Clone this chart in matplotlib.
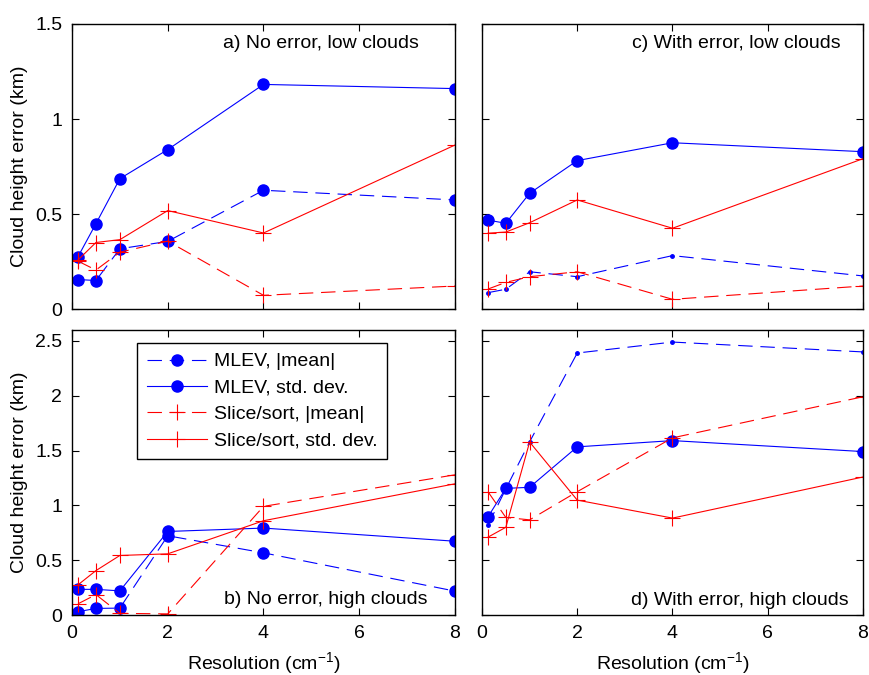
import matplotlib
matplotlib.use("Agg")
import matplotlib.pyplot as plt

plt.rcParams['font.family'] = ['Liberation Sans', 'DejaVu Sans']
plt.rcParams['font.size'] = 14
plt.rcParams['mathtext.fontset'] = 'custom'
plt.rcParams['mathtext.rm'] = 'Liberation Sans'
plt.rcParams['mathtext.default'] = 'regular'

# spectral resolution (cm^-1)
x_res = [0.125, 0.5, 1, 2, 4, 8]

# a) no error, low clouds
mlev_mean_a = [0.155, 0.150, 0.317, 0.356, 0.625, 0.574]
mlev_std_a = [0.275, 0.449, 0.686, 0.839, 1.182, 1.160]
slice_mean_a = [0.252, 0.205, 0.299, 0.357, 0.072, 0.121]
slice_std_a = [0.258, 0.350, 0.365, 0.518, 0.400, 0.863]

# c) with error, low clouds
mlev_mean_c = [0.086, 0.104, 0.196, 0.170, 0.281, 0.174]
mlev_std_c = [0.468, 0.451, 0.609, 0.781, 0.875, 0.828]
slice_mean_c = [0.105, 0.140, 0.170, 0.196, 0.051, 0.121]
slice_std_c = [0.399, 0.405, 0.454, 0.574, 0.425, 0.791]

# b) no error, high clouds
mlev_mean_b = [0.030, 0.060, 0.063, 0.723, 0.567, 0.218]
mlev_std_b = [0.234, 0.234, 0.220, 0.762, 0.793, 0.673]
slice_mean_b = [0.102, 0.186, 0.015, 0.010, 0.991, 1.279]
slice_std_b = [0.275, 0.405, 0.543, 0.558, 0.860, 1.197]

# d) with error, high clouds
mlev_mean_d = [0.820, 1.150, 1.580, 2.390, 2.490, 2.400]
mlev_std_d = [0.895, 1.155, 1.165, 1.534, 1.591, 1.491]
slice_mean_d = [1.125, 0.890, 0.868, 1.125, 1.616, 1.991]
slice_std_d = [0.710, 0.800, 1.578, 1.048, 0.884, 1.259]

series_labels = ['MLEV, |mean|', 'MLEV, std. dev.',
                 'Slice/sort, |mean|', 'Slice/sort, std. dev.']
panel_titles = ['a) No error, low clouds', 'c) With error, low clouds',
                'b) No error, high clouds', 'd) With error, high clouds']
xlabel = 'Resolution (cm$^{-1}$)'
ylabel = 'Cloud height error (km)'

fig = plt.figure(figsize=(8.7, 6.75), dpi=100)

W, H = 870.0, 675.0
def box(x0, x1, y0, y1):
    return [x0 / W, 1 - y1 / H, (x1 - x0) / W, (y1 - y0) / H]

ax_a = fig.add_axes(box(72, 455, 24, 309))
ax_c = fig.add_axes(box(482, 863, 24, 309))
ax_b = fig.add_axes(box(72, 455, 330, 615))
ax_d = fig.add_axes(box(482, 863, 330, 615))

dash = (0, (13, 7))
lw = 0.8

def draw(ax, mm, ms, sm, ss, small_mean=False):
    mean_size = 2.5 if small_mean else 8
    h1, = ax.plot(x_res, mm, color='blue', ls=dash, lw=lw, marker='o',
                  ms=mean_size, mec='blue', mfc='blue')
    h2, = ax.plot(x_res, ms, color='blue', ls='-', lw=lw, marker='o',
                  ms=8, mec='blue', mfc='blue')
    h3, = ax.plot(x_res, sm, color='red', ls=dash, lw=lw, marker='+',
                  ms=11, mew=lw)
    h4, = ax.plot(x_res, ss, color='red', ls='-', lw=lw, marker='+',
                  ms=11, mew=lw)
    return [h1, h2, h3, h4]

draw(ax_a, mlev_mean_a, mlev_std_a, slice_mean_a, slice_std_a)
draw(ax_c, mlev_mean_c, mlev_std_c, slice_mean_c, slice_std_c, small_mean=True)
handles = draw(ax_b, mlev_mean_b, mlev_std_b, slice_mean_b, slice_std_b)
draw(ax_d, mlev_mean_d, mlev_std_d, slice_mean_d, slice_std_d, small_mean=True)

for ax in (ax_a, ax_c, ax_b, ax_d):
    ax.set_xlim(0, 8)
    ax.set_xticks([0, 2, 4, 6, 8])
    ax.tick_params(direction='in', length=5, width=0.8, top=True, right=True,
                   pad=7, labelsize=14)
    for s in ax.spines.values():
        s.set_linewidth(1.0)
        s.set_color('black')

for ax in (ax_a, ax_c):
    ax.set_ylim(0, 1.5)
    ax.set_yticks([0, 0.5, 1, 1.5])
    ax.set_yticklabels(['0', '0.5', '1', '1.5'])
    ax.tick_params(labelbottom=False)
for ax in (ax_b, ax_d):
    ax.set_ylim(0, 2.6)
    ax.set_yticks([0, 0.5, 1, 1.5, 2, 2.5])
    ax.set_yticklabels(['0', '0.5', '1', '1.5', '2', '2.5'])
    ax.set_xticklabels(['0', '2', '4', '6', '8'])
    ax.set_xlabel(xlabel, labelpad=6)
for ax in (ax_c, ax_d):
    ax.tick_params(labelleft=False)
for ax in (ax_a, ax_b):
    ax.set_ylabel(ylabel, labelpad=5)

ax_a.text(0.906, 0.933, panel_titles[0], transform=ax_a.transAxes,
          ha='right', va='center')
ax_c.text(0.942, 0.933, panel_titles[1], transform=ax_c.transAxes,
          ha='right', va='center')
ax_b.text(0.927, 0.053, panel_titles[2], transform=ax_b.transAxes,
          ha='right', va='center')
ax_d.text(0.963, 0.050, panel_titles[3], transform=ax_d.transAxes,
          ha='right', va='center')

leg = ax_b.legend(handles, series_labels, loc='upper left',
                  bbox_to_anchor=(0.17, 0.954), borderaxespad=0,
                  fancybox=False, framealpha=1, edgecolor='black',
                  handlelength=3.1, handletextpad=0.35, labelspacing=0.45,
                  borderpad=0.5, fontsize=14)
leg.get_frame().set_linewidth(1.0)

fig.savefig('out.png', dpi=100)
